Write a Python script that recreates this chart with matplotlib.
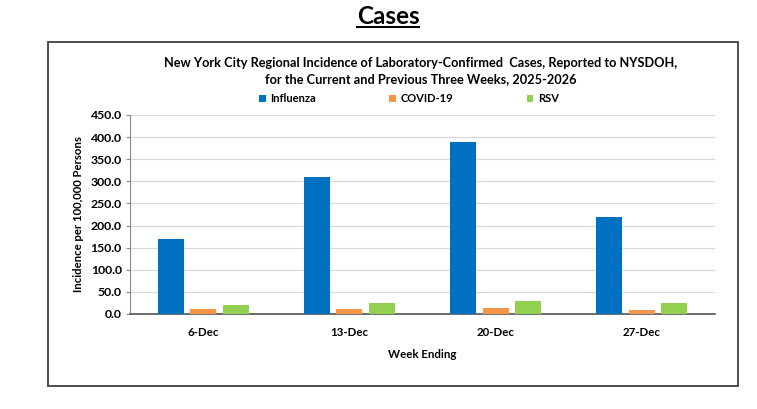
import numpy as np
import matplotlib
matplotlib.use('Agg')
import matplotlib.pyplot as plt
from matplotlib.lines import Line2D
from matplotlib.patches import Rectangle

plt.rcParams['font.family'] = ['Lato', 'DejaVu Sans']
plt.rcParams['font.weight'] = 'bold'

# data
weeks = ['6-Dec', '13-Dec', '20-Dec', '27-Dec']
influenza = [169.0, 309.0, 389.0, 220.0]
covid = [11.0, 12.0, 13.0, 10.0]
rsv = [21.0, 24.0, 30.0, 26.0]
series = ['Influenza', 'COVID-19', 'RSV']
colors = ['#0070C0', '#F79646', '#92D050']
yticks = np.arange(0, 451, 50)

W, H = 757, 409
fig = plt.figure(figsize=(W / 100, H / 100), dpi=100)

# outer chart border
fig.add_artist(Rectangle((48 / W, 1 - 386 / H), 690 / W, 344 / H,
                         transform=fig.transFigure, fill=False,
                         edgecolor='#404040', linewidth=1.3))

# page heading with underline
t = fig.text(388 / W, 1 - 16 / H, 'Cases', ha='center', va='center',
             fontsize=17.5, fontweight='bold')
fig.canvas.draw()
bb = t.get_window_extent().transformed(fig.transFigure.inverted())
fig.add_artist(Line2D([bb.x0, bb.x1], [bb.y0 + 0.002, bb.y0 + 0.002],
                      transform=fig.transFigure, color='black', linewidth=1.5))

fig.text(421 / W, 1 - 71 / H,
         'New York City Regional Incidence of Laboratory-Confirmed  Cases, Reported to NYSDOH,\n'
         'for the Current and Previous Three Weeks, 2025-2026',
         ha='center', va='center', fontsize=9.2, fontweight='bold', linespacing=1.4)

ax = fig.add_axes([130 / W, 1 - 314 / H, 585 / W, 199 / H])
x = np.arange(len(weeks))
bw = 0.178
step = 0.222
for i, (name, vals) in enumerate(zip(series, [influenza, covid, rsv])):
    ax.bar(x + (i - 1) * step, vals, width=bw, color=colors[i], label=name, zorder=3)

ax.set_xlim(-0.5, len(weeks) - 0.5)
ax.set_ylim(0, 450)
ax.set_yticks(yticks)
ax.set_yticklabels([f'{v:.1f}' for v in yticks])
ax.set_xticks(x)
ax.set_xticklabels(weeks)
ax.tick_params(axis='x', length=0, pad=9, labelsize=8.3)
ax.tick_params(axis='y', length=3, color='#888888', pad=3, labelsize=8.8)
ax.grid(axis='y', color='#d9d9d9', linewidth=0.9, zorder=0)
for s in ['top', 'right']:
    ax.spines[s].set_visible(False)
ax.spines['left'].set_color('#888888')
ax.spines['bottom'].set_color('#555555')
ax.spines['bottom'].set_linewidth(1.2)
ax.set_xlabel('Week Ending', fontsize=8.3, fontweight='bold', labelpad=8)
ax.set_ylabel('Incidence per 100,000 Persons', fontsize=8.2, fontweight='bold', labelpad=5)

fig.legend(loc='center', bbox_to_anchor=(409 / W, 1 - 99 / H), ncol=3,
           frameon=False, fontsize=8, handlelength=0.6, handleheight=0.6,
           handletextpad=0.4, columnspacing=6.6)

fig.savefig('out.png', dpi=100)
